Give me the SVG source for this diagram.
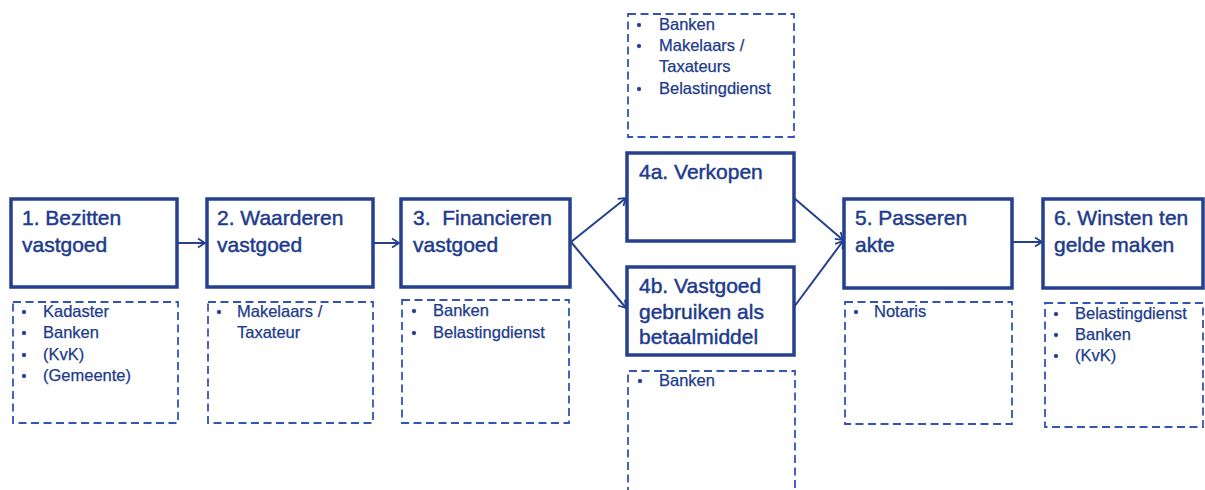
<svg xmlns="http://www.w3.org/2000/svg" width="1205" height="490" viewBox="0 0 1205 490">
  <style>
    .step { fill: #ffffff; stroke: #24408f; stroke-width: 3.5; }
    .actors { fill: none; stroke: #3254b4; stroke-width: 1.8; stroke-dasharray: 8 4.5; }
    .title { font-family: "Liberation Sans", Arial, sans-serif; font-size: 21px; fill: #203a8c; stroke: #203a8c; stroke-width: 0.45; }
    .item { font-family: "Liberation Sans", Arial, sans-serif; font-size: 16.5px; fill: #203a8c; stroke: #203a8c; stroke-width: 0.25; }
    .bullet { fill: #203a8c; }
    .flow { fill: none; stroke: #24408f; stroke-width: 2; marker-end: url(#head); }
  </style>
  <defs>
    <marker id="head" markerWidth="12" markerHeight="12" refX="9" refY="6" orient="auto" markerUnits="userSpaceOnUse">
      <path d="M2,1.5 L9,6 L2,10.5" fill="none" stroke="#24408f" stroke-width="1.8"/>
    </marker>
  </defs>

  <rect width="1205" height="490" fill="#ffffff"/>

  <!-- connectors -->
  <g id="connectors">
    <line class="flow" x1="177" y1="243" x2="205" y2="243"/>
    <line class="flow" x1="373" y1="243" x2="399" y2="243"/>
    <line class="flow" x1="571" y1="242" x2="626" y2="198"/>
    <line class="flow" x1="571" y1="242" x2="626" y2="308"/>
    <line class="flow" x1="794" y1="198" x2="843" y2="240"/>
    <line class="flow" x1="794" y1="307" x2="843" y2="241"/>
    <line class="flow" x1="1012" y1="242" x2="1042" y2="242"/>
  </g>

  <!-- step 1 -->
  <g id="step1">
    <rect class="step" x="11" y="199" width="166" height="88"/>
    <text class="title" x="22" y="225">1. Bezitten</text>
    <text class="title" x="22" y="252">vastgoed</text>
  </g>
  <g id="actors1">
    <rect class="actors" x="13" y="302" width="165" height="121"/>
    <g class="item">
      <circle class="bullet" cx="24" cy="312" r="2"/><text x="43" y="317">Kadaster</text>
      <circle class="bullet" cx="24" cy="333" r="2"/><text x="43" y="338">Banken</text>
      <circle class="bullet" cx="24" cy="355" r="2"/><text x="43" y="360">(KvK)</text>
      <circle class="bullet" cx="24" cy="376" r="2"/><text x="43" y="381">(Gemeente)</text>
    </g>
  </g>

  <!-- step 2 -->
  <g id="step2">
    <rect class="step" x="207" y="199" width="166" height="88"/>
    <text class="title" x="217" y="225">2. Waarderen</text>
    <text class="title" x="217" y="252">vastgoed</text>
  </g>
  <g id="actors2">
    <rect class="actors" x="208" y="302" width="165" height="121"/>
    <g class="item">
      <circle class="bullet" cx="219" cy="312" r="2"/><text x="237" y="317">Makelaars /</text>
      <text x="237" y="338">Taxateur</text>
    </g>
  </g>

  <!-- step 3 -->
  <g id="step3">
    <rect class="step" x="401" y="199" width="169" height="88"/>
    <text class="title" x="413" y="225" xml:space="preserve">3.  Financieren</text>
    <text class="title" x="413" y="252">vastgoed</text>
  </g>
  <g id="actors3">
    <rect class="actors" x="402" y="300" width="167" height="123"/>
    <g class="item">
      <circle class="bullet" cx="414" cy="311" r="2"/><text x="433" y="316">Banken</text>
      <circle class="bullet" cx="414" cy="333" r="2"/><text x="433" y="338">Belastingdienst</text>
    </g>
  </g>

  <!-- step 4a -->
  <g id="actors4a">
    <rect class="actors" x="628" y="14" width="166" height="123"/>
    <g class="item">
      <circle class="bullet" cx="639" cy="25" r="2"/><text x="659" y="30">Banken</text>
      <circle class="bullet" cx="639" cy="46" r="2"/><text x="659" y="51">Makelaars /</text>
      <text x="659" y="72">Taxateurs</text>
      <circle class="bullet" cx="639" cy="89" r="2"/><text x="659" y="94">Belastingdienst</text>
    </g>
  </g>
  <g id="step4a">
    <rect class="step" x="627" y="153" width="167" height="88"/>
    <text class="title" x="639" y="179">4a. Verkopen</text>
  </g>

  <!-- step 4b -->
  <g id="step4b">
    <rect class="step" x="627" y="267" width="167" height="88"/>
    <text class="title" x="639" y="293">4b. Vastgoed</text>
    <text class="title" x="639" y="319">gebruiken als</text>
    <text class="title" x="639" y="344">betaalmiddel</text>
  </g>
  <g id="actors4b">
    <path class="actors" d="M628,495 L628,371 L795,371 L795,495"/>
    <g class="item">
      <circle class="bullet" cx="640" cy="381" r="2"/><text x="659" y="386">Banken</text>
    </g>
  </g>

  <!-- step 5 -->
  <g id="step5">
    <rect class="step" x="844" y="199" width="168" height="89"/>
    <text class="title" x="855" y="225">5. Passeren</text>
    <text class="title" x="855" y="252">akte</text>
  </g>
  <g id="actors5">
    <rect class="actors" x="845" y="302" width="167" height="122"/>
    <g class="item">
      <circle class="bullet" cx="856" cy="312" r="2"/><text x="874" y="317">Notaris</text>
    </g>
  </g>

  <!-- step 6 -->
  <g id="step6">
    <rect class="step" x="1043" y="199" width="160" height="89"/>
    <text class="title" x="1054" y="225">6. Winsten ten</text>
    <text class="title" x="1054" y="252">gelde maken</text>
  </g>
  <g id="actors6">
    <rect class="actors" x="1045" y="303" width="158" height="124"/>
    <g class="item">
      <circle class="bullet" cx="1056" cy="314" r="2"/><text x="1075" y="319">Belastingdienst</text>
      <circle class="bullet" cx="1056" cy="335" r="2"/><text x="1075" y="340">Banken</text>
      <circle class="bullet" cx="1056" cy="356" r="2"/><text x="1075" y="361">(KvK)</text>
    </g>
  </g>
</svg>
